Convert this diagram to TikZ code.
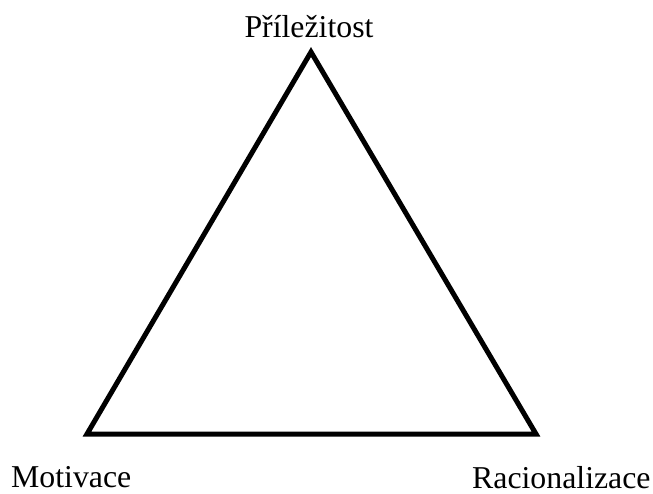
\documentclass[tikz,border=0pt]{standalone}
\usepackage{fontspec}
\setmainfont{Liberation Serif}
\begin{document}
\begin{tikzpicture}[x=1pt,y=-1pt,
  lbl/.style={inner sep=0pt,font=\fontsize{31.8}{38}\selectfont},
  tri/.style={line width=5pt,line join=miter}]
\useasboundingbox (0,0) rectangle (653,494);
\coordinate (top) at (311,52);
\coordinate (left) at (87,434);
\coordinate (right) at (536,434);
\draw[tri] (top) -- (left) -- (right) -- cycle;
\node[lbl,anchor=base] (p) at (309,38) {Příležitost};
\node[lbl,anchor=base west] (m) at (11,487) {Motivace};
\node[lbl,anchor=base west] (r) at (472,488) {Racionalizace};
\end{tikzpicture}
\end{document}
